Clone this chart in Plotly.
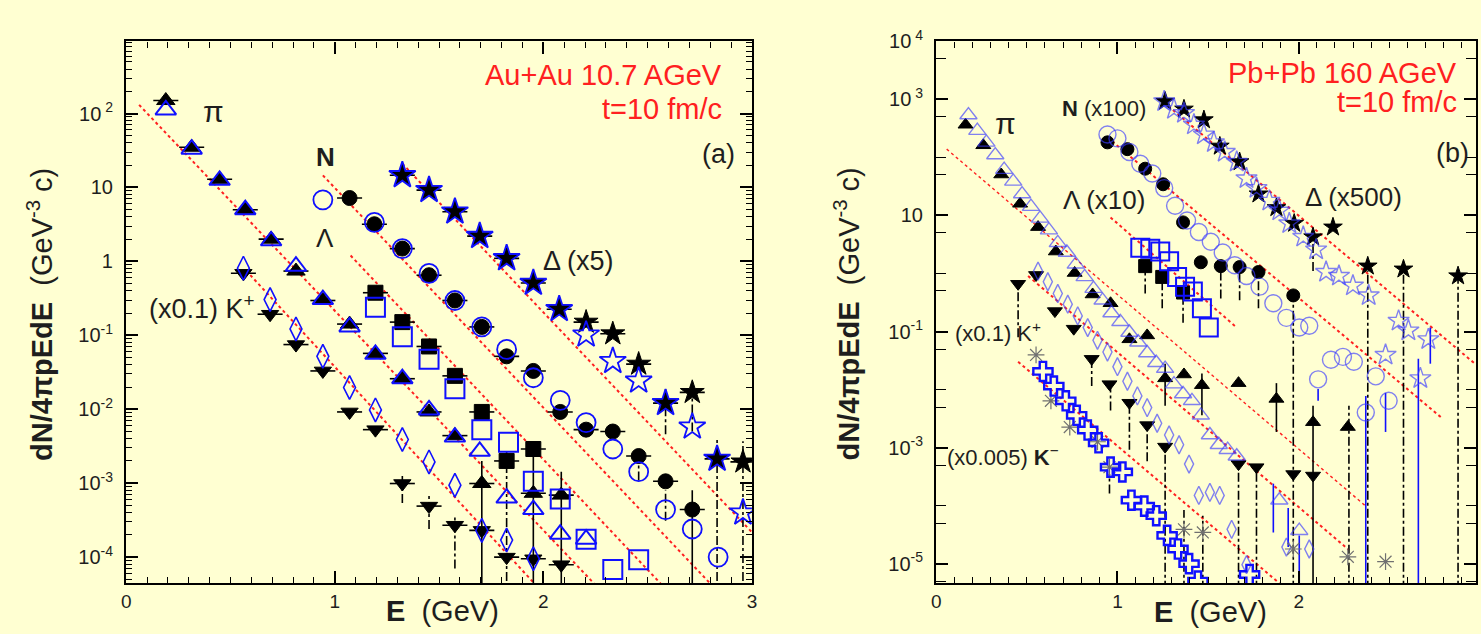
import plotly.graph_objects as go

# ---------------- panel (a): Au+Au 10.7 AGeV, t = 10 fm/c ----------------
a_pi_fill_E = [0.19, 0.314, 0.448, 0.571, 0.695, 0.814, 0.943, 1.071, 1.195, 1.324, 1.452, 1.576, 1.705, 1.952, 2.086]
a_pi_fill = [150, 35, 12.9, 5.0, 2.0, 0.74, 0.296, 0.142, 0.057, 0.0259, 0.0092, 0.0044, 9.9e-4, 7.3e-4, 6.9e-4]
a_pi_open_E = [0.19, 0.314, 0.448, 0.571, 0.695, 0.814, 0.943, 1.071, 1.195, 1.324, 1.452, 1.576, 1.695, 1.824, 1.952, 2.081, 2.205]
a_pi_open = [112, 33, 12.5, 5.0, 1.9, 0.86, 0.305, 0.13, 0.0553, 0.0259, 0.0098, 0.0042, 0.0027, 6.3e-4, 4.4e-4, 2.04e-4, 1.75e-4]

a_kp_fill_E = [0.562, 0.69, 0.814, 0.943, 1.071, 1.195, 1.324, 1.452, 1.576, 1.705, 1.824, 1.952, 2.086]
a_kp_fill = [0.69, 0.193, 0.075, 0.033, 0.0092, 0.0053, 9.9e-4, 4.9e-4, 2.7e-4, 2.3e-4, 1.0e-4, 9.5e-5, 7.9e-5]
a_kp_open_E = [0.562, 0.69, 0.814, 0.943, 1.071, 1.195, 1.324, 1.452, 1.576, 1.705, 1.824, 1.952]
a_kp_open = [0.81, 0.305, 0.122, 0.052, 0.0197, 0.0098, 0.0039, 0.00194, 9.4e-4, 2.3e-4, 1.7e-4, 9.5e-5]

a_n_fill_E = [1.071, 1.19, 1.324, 1.452, 1.576, 1.705, 1.824, 1.952, 2.081, 2.205, 2.333, 2.457, 2.586, 2.714]
a_n_fill = [7.2, 3.18, 1.49, 0.65, 0.296, 0.13, 0.052, 0.033, 0.0092, 0.0053, 0.005, 0.00233, 0.00106, 4.4e-4]
a_n_open_E = [0.943, 1.19, 1.324, 1.452, 1.576, 1.705, 1.824, 1.952, 2.081, 2.205, 2.333, 2.457, 2.586, 2.714, 2.838]
a_n_open = [6.8, 3.38, 1.49, 0.69, 0.296, 0.13, 0.0645, 0.0267, 0.0132, 0.0066, 0.0029, 0.00143, 4.4e-4, 2.4e-4, 1.0e-4]

a_lam_fill_E = [1.195, 1.324, 1.452, 1.576, 1.705, 1.824, 1.952]
a_lam_fill = [0.377, 0.151, 0.0707, 0.0283, 0.0092, 0.002, 0.0029]
a_lam_open_E = [1.195, 1.324, 1.452, 1.576, 1.705, 1.833, 1.952, 2.081, 2.205, 2.333, 2.457]
a_lam_open = [0.239, 0.0958, 0.0475, 0.019, 0.0053, 0.00357, 0.00106, 6.1e-4, 1.75e-4, 6.8e-5, 9.2e-5]

a_del_E = [1.324, 1.452, 1.576, 1.695, 1.824, 1.952, 2.076, 2.205, 2.333, 2.457, 2.586, 2.714, 2.833, 2.957]
a_del_fill = [14.6, 9.2, 4.7, 2.2, 1.1, 0.51, 0.225, 0.151, 0.105, 0.0408, 0.0121, 0.0169, 0.00213, 0.00194]
a_del_open = [14.6, 9.2, 4.7, 2.2, 1.1, 0.51, 0.225, 0.102, 0.0448, 0.0243, 0.0121, 0.0058, 0.00213, 4.0e-4]

# thermal fits (pi, K, Lambda, N, Delta): end points of each exponential
a_fit_E0 = [0.062, 0.595, 1.076, 0.943, 1.324]
a_fit_y0 = [131, 0.653, 1.2, 14.6, 21]
a_fit_E1 = [2.243, 1.957, 2.562, 2.8, 3.0]
a_fit_y1 = [4.4e-5, 4.4e-5, 4.4e-5, 4.4e-5, 2.17e-4]

# vertical error bars
a_err_solid_E = [1.705, 1.952, 2.086, 2.714]
a_err_solid_hi = [2.0e-3, 2.9e-3, 1.43e-3, 8.0e-4]
a_err_solid_lo = [1e-7, 1e-7, 1e-7, 1e-7]
a_err_dd_E = [1.324, 1.452, 1.576, 1.824, 2.586, 2.833, 2.957, 2.714, 2.586, 2.457]
a_err_dd_hi = [1.35e-3, 7.3e-4, 3.6e-4, 2.7e-3, 8.0e-4, 4.2e-3, 3.7e-3, 0.021, 0.019, 1.83e-3]
a_err_dd_lo = [5.4e-4, 2.4e-4, 7.0e-5, 1e-7, 3.1e-4, 1e-7, 1e-7, 0.005, 0.0046, 1.09e-3]

# ---------------- panel (b): Pb+Pb 160 AGeV, t = 10 fm/c ----------------
b_pi_fill_E = [0.162, 0.26, 0.359, 0.463, 0.562, 0.66, 0.764, 0.863, 0.962, 1.066, 1.164, 1.263, 1.367, 1.466, 1.668, 1.877, 2.079, 2.271]
b_pi_fill = [366, 162, 50.8, 15.9, 6.3, 2.39, 1.02, 0.435, 0.307, 0.0734, 0.0857, 0.0156, 0.0182, 0.0119, 0.0129, 0.0069, 0.00274, 0.00226]
b_pi_open_E = [0.178, 0.227, 0.277, 0.326, 0.375, 0.425, 0.474, 0.523, 0.573, 0.622, 0.671, 0.721, 0.77, 0.819, 0.868,
               0.918, 0.967, 1.016, 1.066, 1.115, 1.164, 1.214, 1.263, 1.312, 1.362, 1.411, 1.46, 1.51, 1.559, 1.608,
               1.658, 1.893, 2.003]
b_pi_open = [538, 290, 182, 110, 61.7, 38.7, 23.4, 14.2, 8.9, 5.6, 3.38, 2.3, 1.44, 0.873, 0.548,
             0.345, 0.209, 0.147, 0.0962, 0.0653, 0.0427, 0.029, 0.023, 0.0124, 0.0084, 0.0064, 0.0036, 0.00165, 0.00112, 9.2e-4,
             7.1e-4, 1.24e-4, 3.7e-5]

b_kp_fill_E = [0.452, 0.551, 0.655, 0.759, 0.858, 0.956, 1.066, 1.164, 1.263, 1.668, 1.767, 1.97, 2.079]
b_kp_fill = [0.665, 0.944, 0.225, 0.112, 0.0338, 0.0124, 0.00593, 0.00244, 0.00104, 5.2e-4, 4.6e-4, 3.5e-4, 3.3e-4]
b_kp_open_E = [0.562, 0.616, 0.671, 0.726, 0.781, 0.836, 0.89, 0.945, 1.0, 1.055, 1.11, 1.164, 1.219, 1.285, 1.34,
               1.395, 1.449, 1.51, 1.564, 1.63, 1.712, 1.932, 2.058]
b_kp_open = [1.1, 0.72, 0.452, 0.296, 0.186, 0.117, 0.0706, 0.0444, 0.0248, 0.0139, 0.00778, 0.00489, 0.00263, 0.00165, 0.00112,
             5.2e-4, 1.5e-4, 1.69e-4, 1.5e-4, 3.9e-5, 9.6e-6, 1.93e-5, 1.79e-5]

b_n_fill_E = [0.945, 1.055, 1.153, 1.252, 1.362, 1.46, 1.57, 1.674, 1.778, 1.97]
b_n_fill = [182, 139, 64, 34.5, 7.6, 1.56, 1.34, 1.29, 1.06, 0.419]
b_n_open_E = [0.945, 1.0, 1.066, 1.126, 1.192, 1.258, 1.318, 1.384, 1.449, 1.515, 1.581, 1.647, 1.712, 1.784, 1.86,
              1.932, 2.003, 2.058, 2.107, 2.178, 2.244, 2.304, 2.37, 2.425, 2.496]
b_n_open = [248, 213, 124, 77.8, 52.8, 29.6, 14.7, 8.2, 5.2, 3.52, 2.3, 1.39, 0.908, 0.593, 0.307,
            0.172, 0.117, 0.126, 0.015, 0.0326, 0.0366, 0.0301, 0.00403, 0.0169, 0.0064]

b_lam_fill_E = [1.153, 1.247, 1.362]
b_lam_fill = [1.34, 0.873, 0.47]
b_lam_open_E = [1.126, 1.181, 1.236, 1.285, 1.329, 1.373, 1.416, 1.466, 1.504]
b_lam_open = [2.79, 2.68, 2.39, 1.62, 0.873, 0.593, 0.489, 0.253, 0.117]

b_del_fill_E = [1.263, 1.367, 1.477, 1.565, 1.674, 1.778, 1.877, 1.975, 2.079, 2.189, 2.381, 2.578, 2.879]
b_del_fill = [925, 679, 444, 156, 84, 23.4, 13.6, 7.3, 4.27, 6.3, 1.34, 1.19, 0.908]
b_del_open_E = [1.258, 1.312, 1.367, 1.422, 1.477, 1.532, 1.592, 1.658, 1.712, 1.767, 1.838, 1.893, 1.948, 2.025, 2.096,
                2.151, 2.222, 2.299, 2.386, 2.479, 2.551, 2.605, 2.671, 2.715]
b_del_open = [925, 679, 582, 366, 248, 182, 124, 84, 43.5, 29.6, 17.9, 12.1, 7.3, 4.27, 2.58,
              1.06, 0.908, 0.617, 0.419, 0.0395, 0.153, 0.104, 0.0156, 0.0734]

b_km_E = [0.589, 0.649, 0.715, 0.775, 0.836, 0.896, 0.962, 1.027, 1.077, 1.148, 1.214, 1.274, 1.334, 1.395, 1.444, 1.729]
b_km = [0.0205, 0.0115, 0.0064, 0.0036, 0.00201, 0.00121, 4.6e-4, 3.8e-4, 1.24e-4, 9.8e-5, 6.7e-5, 3.07e-5, 1.79e-5, 1.0e-5, 5.0e-6, 6.5e-6]
b_km_alt_E = [0.551, 0.633, 0.737, 0.89, 0.956, 1.367, 1.471, 1.97, 2.271, 2.479]
b_km_alt = [0.0395, 0.0064, 0.00226, 0.00126, 4.6e-4, 3.9e-5, 3.45e-5, 1.79e-5, 1.31e-5, 1.08e-5]

# thermal fits (pi, K+, K-, Lambda, N, Delta)
b_fit_E0 = [0.058, 0.507, 0.452, 0.962, 0.945, 1.23]
b_fit_y0 = [139, 0.908, 0.0301, 9.25, 221, 1040]
b_fit_E1 = [2.37, 2.277, 1.893, 1.658, 2.792, 2.978]
b_fit_y1 = [9.8e-5, 1.72e-5, 4.6e-6, 0.117, 0.00319, 0.0269]

b_err_dd_E = [0.452, 1.164, 1.263, 1.367, 1.471, 1.668, 1.767, 1.97, 2.079, 2.277, 2.381, 2.578, 2.879,
              0.858, 0.962, 1.066, 1.153, 1.247, 1.362, 1.57, 1.674, 1.778, 0.956]
b_err_dd_hi = [0.593, 0.00244, 8.6e-4, 8.4e-5, 6.7e-5, 4.6e-4, 3.95e-4, 0.372, 3.52, 0.00528, 1.1, 0.98, 0.81,
               0.0301, 0.0115, 0.00528, 1.19, 0.81, 0.419, 1.19, 1.1, 0.873, 3.5e-4]
b_err_dd_lo = [0.0793, 5.8e-4, 1e-7, 1e-7, 1e-7, 1e-7, 1e-7, 1e-7, 1.1, 1e-7, 1e-7, 1e-7, 1e-7,
               0.0115, 0.00436, 9.2e-4, 0.452, 0.253, 0.142, 0.372, 0.345, 0.253, 1.62e-4]
b_err_solid_E = [2.079, 1.263, 1.466, 1.877]
b_err_solid_hi = [0.00528, 0.0279, 0.0189, 0.0129]
b_err_solid_lo = [1e-7, 0.00528, 0.0036, 0.00186]
b_err_blue_E = [2.37, 2.66, 2.003, 1.86, 1.942, 2.479, 2.726, 2.107]
b_err_blue_hi = [0.00778, 0.0338, 3.07e-5, 2.39e-4, 9.1e-5, 0.00873, 0.117, 0.0102]
b_err_blue_lo = [1e-7, 1e-7, 1e-7, 3.45e-5, 1.93e-5, 0.00186, 0.0279, 0.0064]

# ---------------- styling ----------------
W, H = 1481, 634
BG = "#FFFFD2"
BLUE = "#1010FF"
LBLUE = "rgba(60,60,255,0.65)"
RED = "#FF2020"
INK = "#1e1e1e"
FONT = "Liberation Sans, Arial, sans-serif"

fig = go.Figure()


def segs(E0, y0, E1, y1):
    xs, ys = [], []
    for a, b, c, d in zip(E0, y0, E1, y1):
        xs += [a, c, None]
        ys += [b, d, None]
    return xs, ys


def add_fits(E0, y0, E1, y1, ax, width=2.0):
    xs, ys = segs(E0, y0, E1, y1)
    fig.add_trace(go.Scatter(x=xs, y=ys, mode="lines", xaxis="x" + ax, yaxis="y" + ax,
                             line=dict(color=RED, width=width, dash="dot"),
                             hoverinfo="skip", showlegend=False))


def add_err(E, lo, hi, ax, color, dash):
    xs, ys = segs(E, lo, E, hi)
    fig.add_trace(go.Scatter(x=xs, y=ys, mode="lines", xaxis="x" + ax, yaxis="y" + ax,
                             line=dict(color=color, width=1.6, dash=dash),
                             hoverinfo="skip", showlegend=False))


def add_pts(E, y, ax, symbol, size, color, filled, lw=1.5, xerr=None):
    marker = dict(symbol=symbol, size=size, color=color,
                  line=dict(color=color if not filled else "black", width=lw))
    tr = go.Scatter(x=E, y=y, mode="markers", xaxis="x" + ax, yaxis="y" + ax,
                    marker=marker, showlegend=False, cliponaxis=True)
    if xerr:
        tr.error_x = dict(type="constant", value=xerr, color="black", thickness=1.6, width=0)
    fig.add_trace(tr)


# panel (a)
add_fits(a_fit_E0, a_fit_y0, a_fit_E1, a_fit_y1, "")
add_err(a_err_solid_E, a_err_solid_lo, a_err_solid_hi, "", "black", "solid")
add_err(a_err_dd_E, a_err_dd_lo, a_err_dd_hi, "", "black", "dashdot")
add_pts(a_pi_fill_E, a_pi_fill, "", "triangle-up", 16, "black", True, 1, 0.06)
add_pts(a_kp_fill_E, a_kp_fill, "", "triangle-down", 15, "black", True, 1, 0.06)
add_pts(a_n_fill_E, a_n_fill, "", "circle", 15, "black", True, 1, 0.06)
add_pts(a_lam_fill_E, a_lam_fill, "", "square", 15, "black", True, 1, 0.06)
add_pts(a_del_E, a_del_fill, "", "star", 18, "black", True, 1, 0.06)
add_pts(a_pi_open_E, a_pi_open, "", "triangle-up-open", 18, BLUE, False, 2)
add_pts(a_kp_open_E, a_kp_open, "", "diamond-tall-open", 17, BLUE, False, 1.6)
add_pts(a_n_open_E, a_n_open, "", "circle-open", 19, BLUE, False, 1.8)
add_pts(a_lam_open_E, a_lam_open, "", "square-open", 19, BLUE, False, 2)
add_pts(a_del_E, a_del_open, "", "star-open", 20, BLUE, False, 1.8)

# panel (b)
add_fits(b_fit_E0[:1], b_fit_y0[:1], b_fit_E1[:1], b_fit_y1[:1], "2", 1.4)
add_fits(b_fit_E0[1:], b_fit_y0[1:], b_fit_E1[1:], b_fit_y1[1:], "2")
add_err(b_err_dd_E, b_err_dd_lo, b_err_dd_hi, "2", "black", "dashdot")
add_err(b_err_solid_E, b_err_solid_lo, b_err_solid_hi, "2", "black", "solid")
add_err(b_err_blue_E, b_err_blue_lo, b_err_blue_hi, "2", BLUE, "solid")
add_pts(b_pi_fill_E, b_pi_fill, "2", "triangle-up", 13, "black", True, 1)
add_pts(b_kp_fill_E, b_kp_fill, "2", "triangle-down", 13, "black", True, 1)
add_pts(b_n_fill_E, b_n_fill, "2", "circle", 13, "black", True, 1)
add_pts(b_lam_fill_E, b_lam_fill, "2", "square", 13, "black", True, 1)
add_pts(b_del_fill_E, b_del_fill, "2", "star", 14, "black", True, 1)
add_pts(b_pi_open_E, b_pi_open, "2", "triangle-up-open", 15, LBLUE, False, 1.4)
add_pts(b_kp_open_E, b_kp_open, "2", "diamond-tall-open", 13, LBLUE, False, 1.4)
add_pts(b_n_open_E, b_n_open, "2", "circle-open", 17, LBLUE, False, 1.4)
add_pts(b_lam_open_E, b_lam_open, "2", "square-open", 18, BLUE, False, 2)
add_pts(b_del_open_E, b_del_open, "2", "star-open", 16, LBLUE, False, 1.4)
add_pts(b_km_alt_E, b_km_alt, "2", "asterisk-open", 14, "#707070", False, 1.2)
add_pts(b_km_E, b_km, "2", "cross-open", 16, BLUE, False, 2.4)

# ---------------- axes ----------------
ydom = [52 / H, 606 / H]


def xaxis(dom, rng, ticks, anchor):
    return dict(anchor=anchor, domain=dom, range=rng, tickmode="array", tickvals=ticks,
                ticktext=[str(t) for t in ticks],
                ticks="inside", ticklen=12, tickwidth=1.6, tickcolor="black",
                minor=dict(ticks="inside", ticklen=6, tickwidth=1.3, tickcolor="black", dtick=0.1),
                showline=True, linewidth=2.4, linecolor="black", mirror="ticks",
                showgrid=False, zeroline=False, tickfont=dict(size=19, color=INK, family=FONT))


def decade_label(k):
    if k == 0:
        return "1"
    if k == 1:
        return "10"
    return "10<sup> %d</sup>" % k if k > 0 else "10<sup>%d</sup>" % k


def yaxis(anchor, rng, labelled, minor_vals, minor_len):
    return dict(anchor=anchor, domain=ydom, type="log", range=rng, tickmode="array",
                tickvals=[10.0 ** k for k in labelled], ticktext=[decade_label(k) for k in labelled],
                ticks="inside", ticklen=12, tickwidth=1.6, tickcolor="black", ticklabelstandoff=7,
                minor=dict(ticks="inside", ticklen=minor_len, tickwidth=1.3, tickcolor="black",
                           tickmode="array", tickvals=minor_vals),
                showline=True, linewidth=2.4, linecolor="black", mirror="ticks",
                showgrid=False, zeroline=False, tickfont=dict(size=20, color=INK, family=FONT))


a_minor = [m * 10.0 ** k for k in range(-5, 3) for m in range(2, 10)]
b_minor = [5 * 10.0 ** k for k in range(-6, 4)] + [10.0 ** k for k in (-4, -2, 0, 2)]

fig.update_layout(
    width=W, height=H, margin=dict(l=0, r=0, t=0, b=0),
    paper_bgcolor=BG, plot_bgcolor=BG,
    font=dict(family=FONT, color=INK),
    xaxis=xaxis([122 / W, 752 / W], [0, 3], [0, 1, 2, 3], "y"),
    yaxis=yaxis("x", [-4.352, 2.976], list(range(-4, 3)), a_minor, 6),
    xaxis2=xaxis([937.5 / W, 1.0], [0, 2.978], [0, 1, 2], "y2"),
    yaxis2=yaxis("x2", [-5.336, 4.0], [-5, -3, -1, 1, 3, 4], b_minor, 10),
)


def ann(text, x, y, size, color=INK, xanchor="center", angle=0):
    return dict(text=text, x=x / W, y=1 - y / H, xref="paper", yref="paper", showarrow=False,
                xanchor=xanchor, yanchor="middle", textangle=angle,
                font=dict(size=size, color=color, family=FONT))


ytitle = "<b>dN/4πpEdE</b>  (GeV<sup>-3</sup> c)"
xtitle = "<b>E</b>  (GeV)"
fig.update_layout(annotations=[
    # panel (a)
    ann(ytitle, 35, 307, 29, angle=-90),
    ann(xtitle, 440, 610, 29),
    ann("π", 210, 100, 30),
    ann("<b>N</b>", 323, 146, 26),
    ann("Λ", 322, 229, 26),
    ann("Δ (x5)", 577, 253, 27),
    ann("(x0.1) K<sup>+</sup>", 254, 300, 27, xanchor="right"),
    ann("Au+Au 10.7 AGeV", 724, 62, 29, RED, "right"),
    ann("t=10 fm/c", 724, 97, 29, RED, "right"),
    ann("(a)", 737, 143, 27, xanchor="right"),
    # panel (b)
    ann(ytitle, 848, 307, 29, angle=-90),
    ann(xtitle, 1214, 612, 29),
    ann("π", 1007, 112, 30),
    ann("<b>N</b> (x100)", 1106, 97, 22),
    ann("Λ (x10)", 1106, 190, 26),
    ann("Δ (x500)", 1358, 187, 26),
    ann("(x0.1) K<sup>+</sup>", 1000, 325, 22),
    ann("(x0.005) <b>K</b><sup>−</sup>", 1005, 452, 22),
    ann("Pb+Pb 160 AGeV", 1464, 60, 29, RED, "right"),
    ann("t=10 fm/c", 1464, 90, 29, RED, "right"),
    ann("(b)", 1439, 142, 27, xanchor="left"),
])

fig.write_html("out.html")
